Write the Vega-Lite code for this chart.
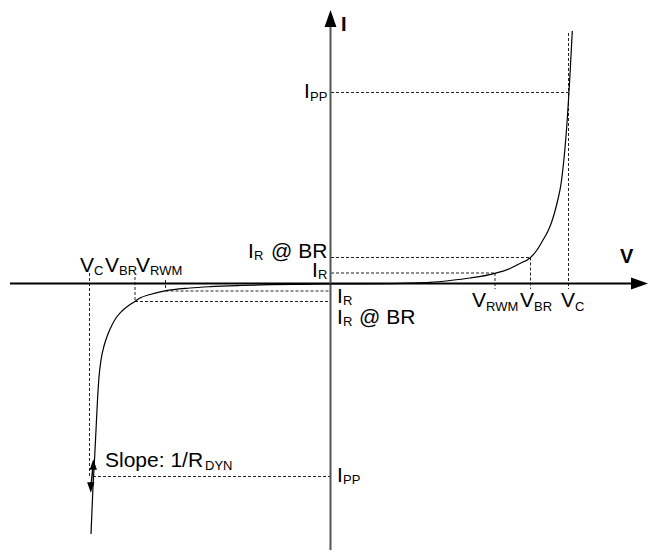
{
  "$schema": "https://vega.github.io/schema/vega-lite/v6.json",
  "width": 652,
  "height": 557,
  "padding": 0,
  "autosize": {"type": "none"},
  "background": "white",
  "config": {"view": {"stroke": null}},
  "encoding": {
    "x": {"field": "x", "type": "quantitative", "scale": {"domain": [0, 652], "nice": false, "zero": false}, "axis": null},
    "y": {"field": "y", "type": "quantitative", "scale": {"domain": [0, 557], "reverse": true, "nice": false, "zero": false}, "axis": null}
  },
  "layer": [
    {
      "data": {"values": [
        {"x": 331, "y": 273, "x2": 495, "y2": 273},
        {"x": 331, "y": 257.5, "x2": 530, "y2": 257.5},
        {"x": 331, "y": 92.5, "x2": 568.5, "y2": 92.5},
        {"x": 495, "y": 273, "x2": 495, "y2": 289},
        {"x": 530.5, "y": 257.5, "x2": 530.5, "y2": 289},
        {"x": 568.5, "y": 33, "x2": 568.5, "y2": 289},
        {"x": 165.5, "y": 291, "x2": 331, "y2": 291},
        {"x": 135, "y": 301.5, "x2": 331, "y2": 301.5},
        {"x": 165.5, "y": 280, "x2": 165.5, "y2": 291},
        {"x": 135, "y": 277, "x2": 135, "y2": 301.5},
        {"x": 89.5, "y": 273, "x2": 89.5, "y2": 476},
        {"x": 93, "y": 476.5, "x2": 331, "y2": 476.5}
      ]},
      "mark": {"type": "rule", "strokeDash": [3, 2], "strokeWidth": 1, "color": "#222"},
      "encoding": {"x2": {"field": "x2"}, "y2": {"field": "y2"}}
    },
    {
      "data": {"values": [{"x": 10, "y": 283.5, "x2": 633, "y2": 283.5}]},
      "mark": {"type": "rule", "strokeWidth": 2, "color": "#000"},
      "encoding": {"x2": {"field": "x2"}, "y2": {"field": "y2"}}
    },
    {
      "data": {"values": [{"x": 330.5, "y": 550, "x2": 330.5, "y2": 25}]},
      "mark": {"type": "rule", "strokeWidth": 2, "color": "#555"},
      "encoding": {"x2": {"field": "x2"}, "y2": {"field": "y2"}}
    },
    {
      "data": {"values": [
        {"c": "r", "i": 0, "x": 331, "y": 284},
        {"c": "r", "i": 1, "x": 360, "y": 283.9},
        {"c": "r", "i": 2, "x": 390, "y": 283.6},
        {"c": "r", "i": 3, "x": 410, "y": 283.2},
        {"c": "r", "i": 4, "x": 430, "y": 282.4},
        {"c": "r", "i": 5, "x": 450, "y": 280.5},
        {"c": "r", "i": 6, "x": 470, "y": 278},
        {"c": "r", "i": 7, "x": 495, "y": 273.3},
        {"c": "r", "i": 8, "x": 510, "y": 268.5},
        {"c": "r", "i": 9, "x": 520, "y": 263.5},
        {"c": "r", "i": 10, "x": 530, "y": 258},
        {"c": "r", "i": 11, "x": 537, "y": 250},
        {"c": "r", "i": 12, "x": 543, "y": 240},
        {"c": "r", "i": 13, "x": 548, "y": 231},
        {"c": "r", "i": 14, "x": 552, "y": 221},
        {"c": "r", "i": 15, "x": 555, "y": 211},
        {"c": "r", "i": 16, "x": 558, "y": 199},
        {"c": "r", "i": 17, "x": 561, "y": 184},
        {"c": "r", "i": 18, "x": 563, "y": 168},
        {"c": "r", "i": 19, "x": 565, "y": 148},
        {"c": "r", "i": 20, "x": 567, "y": 123},
        {"c": "r", "i": 21, "x": 569, "y": 92},
        {"c": "r", "i": 22, "x": 570.5, "y": 65},
        {"c": "r", "i": 23, "x": 572.3, "y": 31},
        {"c": "l", "i": 0, "x": 331, "y": 284},
        {"c": "l", "i": 1, "x": 300, "y": 284.3},
        {"c": "l", "i": 2, "x": 270, "y": 284.7},
        {"c": "l", "i": 3, "x": 240, "y": 285.5},
        {"c": "l", "i": 4, "x": 210, "y": 286.7},
        {"c": "l", "i": 5, "x": 190, "y": 288},
        {"c": "l", "i": 6, "x": 165, "y": 290.8},
        {"c": "l", "i": 7, "x": 150, "y": 294.5},
        {"c": "l", "i": 8, "x": 140, "y": 298},
        {"c": "l", "i": 9, "x": 135, "y": 301.5},
        {"c": "l", "i": 10, "x": 128, "y": 306},
        {"c": "l", "i": 11, "x": 122, "y": 311},
        {"c": "l", "i": 12, "x": 116, "y": 318},
        {"c": "l", "i": 13, "x": 112, "y": 325},
        {"c": "l", "i": 14, "x": 108, "y": 334},
        {"c": "l", "i": 15, "x": 104, "y": 346},
        {"c": "l", "i": 16, "x": 101, "y": 360},
        {"c": "l", "i": 17, "x": 99, "y": 377},
        {"c": "l", "i": 18, "x": 97.5, "y": 400},
        {"c": "l", "i": 19, "x": 96, "y": 430},
        {"c": "l", "i": 20, "x": 94.5, "y": 460},
        {"c": "l", "i": 21, "x": 93, "y": 487},
        {"c": "l", "i": 22, "x": 92, "y": 510},
        {"c": "l", "i": 23, "x": 91, "y": 534}
      ]},
      "mark": {"type": "line", "strokeWidth": 1.2, "color": "#000", "interpolate": "monotone"},
      "encoding": {"detail": {"field": "c"}, "order": {"field": "i", "type": "quantitative"}}
    },
    {
      "data": {"values": [{"x": 93.2, "y": 464, "x2": 90.8, "y2": 488}]},
      "mark": {"type": "rule", "strokeWidth": 1.5, "color": "#000"},
      "encoding": {"x2": {"field": "x2"}, "y2": {"field": "y2"}}
    },
    {
      "data": {"values": [{"x": 330.5, "y": 18.5}]},
      "mark": {"type": "point", "shape": "M-0.7,1L0,-1L0.7,1Z", "size": 289, "filled": true, "color": "#000", "opacity": 1}
    },
    {
      "data": {"values": [{"x": 639.5, "y": 283.5}]},
      "mark": {"type": "point", "shape": "M-1,-0.7L1,0L-1,0.7Z", "size": 289, "filled": true, "color": "#000", "opacity": 1}
    },
    {
      "data": {"values": [{"x": 93.3, "y": 464.5}]},
      "mark": {"type": "point", "shape": "M-0.7,1L0,-1L0.7,1Z", "size": 110, "filled": true, "color": "#000", "opacity": 1}
    },
    {
      "data": {"values": [{"x": 90.8, "y": 487.5}]},
      "mark": {"type": "point", "shape": "M-0.7,-1L0,1L0.7,-1Z", "size": 110, "filled": true, "color": "#000", "opacity": 1}
    },
    {
      "data": {"values": [
        {"x": 472, "y": 307, "t": "V"},
        {"x": 520, "y": 307, "t": "V"},
        {"x": 561, "y": 307, "t": "V"},
        {"x": 80, "y": 272, "t": "V"},
        {"x": 105, "y": 272, "t": "V"},
        {"x": 136, "y": 272, "t": "V"},
        {"x": 248, "y": 258.3, "t": "I"},
        {"x": 271, "y": 258.3, "t": "@ BR"},
        {"x": 312, "y": 277, "t": "I"},
        {"x": 337, "y": 302.7, "t": "I"},
        {"x": 337, "y": 323.5, "t": "I"},
        {"x": 359, "y": 323.5, "t": "@ BR"},
        {"x": 304, "y": 98.3, "t": "I"},
        {"x": 337, "y": 482, "t": "I"},
        {"x": 105, "y": 466.7, "t": "Slope: 1/R"}
      ]},
      "mark": {"type": "text", "font": "Liberation Sans", "fontSize": 21, "align": "left", "baseline": "alphabetic", "color": "#000"},
      "encoding": {"text": {"field": "t"}}
    },
    {
      "data": {"values": [
        {"x": 486, "y": 311, "t": "RWM"},
        {"x": 534, "y": 311, "t": "BR"},
        {"x": 575, "y": 311, "t": "C"},
        {"x": 94, "y": 275, "t": "C"},
        {"x": 119, "y": 275, "t": "BR"},
        {"x": 150, "y": 275, "t": "RWM"},
        {"x": 254, "y": 260, "t": "R"},
        {"x": 318, "y": 279, "t": "R"},
        {"x": 343, "y": 305, "t": "R"},
        {"x": 343, "y": 325.5, "t": "R"},
        {"x": 310, "y": 100.5, "t": "PP"},
        {"x": 343, "y": 484, "t": "PP"},
        {"x": 205, "y": 470, "t": "DYN"}
      ]},
      "mark": {"type": "text", "font": "Liberation Sans", "fontSize": 13, "align": "left", "baseline": "alphabetic", "color": "#000"},
      "encoding": {"text": {"field": "t"}}
    },
    {
      "data": {"values": [
        {"x": 341, "y": 30.5, "t": "I"},
        {"x": 620, "y": 263, "t": "V"}
      ]},
      "mark": {"type": "text", "font": "Liberation Sans", "fontSize": 20, "fontWeight": "bold", "align": "left", "baseline": "alphabetic", "color": "#000"},
      "encoding": {"text": {"field": "t"}}
    }
  ]
}
